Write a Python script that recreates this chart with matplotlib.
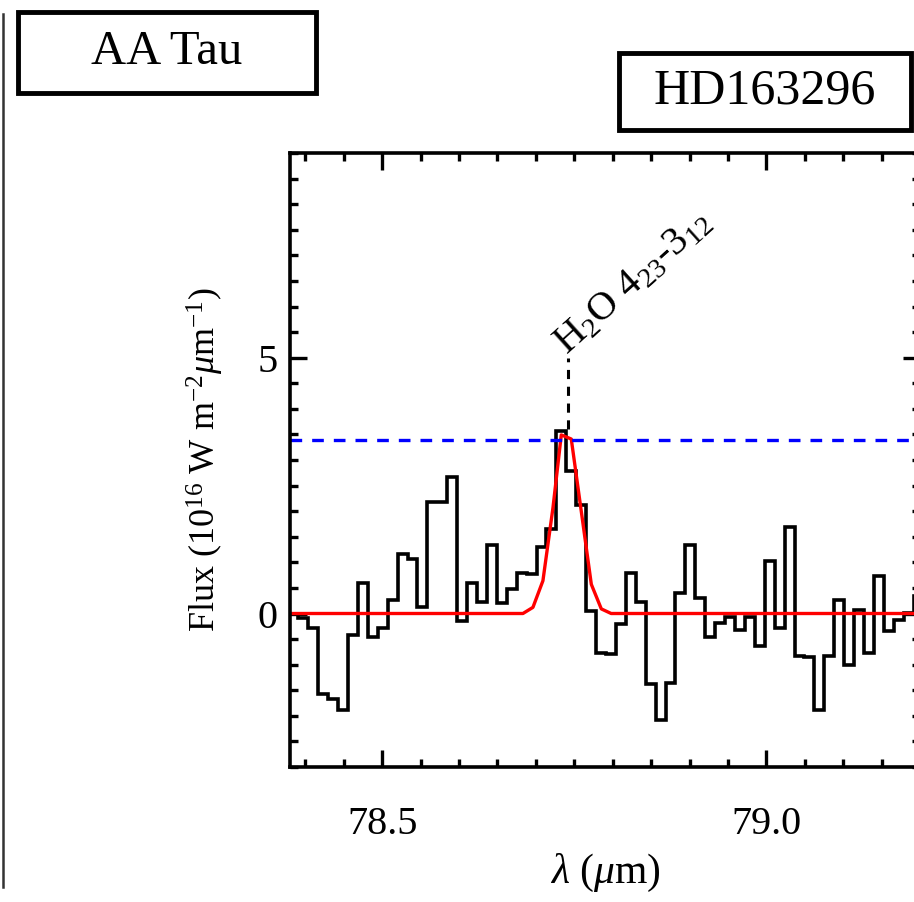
import matplotlib
matplotlib.use('Agg')
import matplotlib.pyplot as plt
from matplotlib.patches import Rectangle
from matplotlib.ticker import MultipleLocator
import numpy as np

plt.rcParams['font.family'] = ['Liberation Serif', 'DejaVu Serif']
plt.rcParams['mathtext.fontset'] = 'custom'
plt.rcParams['mathtext.rm'] = 'Liberation Serif'
plt.rcParams['mathtext.it'] = 'Liberation Serif:italic'
plt.rcParams['mathtext.bf'] = 'Liberation Serif:bold'

# spectrum bins (micron) and flux (1e-16 W m-2 um-1)
wave = [78.3845, 78.3974, 78.4103, 78.4232, 78.4362, 78.4491, 78.4620, 78.4749,
        78.4878, 78.5007, 78.5137, 78.5266, 78.5395, 78.5524, 78.5653, 78.5782,
        78.5911, 78.6041, 78.6170, 78.6299, 78.6428, 78.6557, 78.6686, 78.6816,
        78.6945, 78.7074, 78.7203, 78.7332, 78.7461, 78.7590, 78.7720, 78.7849,
        78.7978, 78.8107, 78.8236, 78.8365, 78.8494, 78.8624, 78.8753, 78.8882,
        78.9011, 78.9140, 78.9269, 78.9399, 78.9528, 78.9657, 78.9786, 78.9915,
        79.0044, 79.0173, 79.0303, 79.0432, 79.0561, 79.0690, 79.0819, 79.0948,
        79.1078, 79.1207, 79.1336, 79.1465, 79.1594, 79.1723, 79.1852, 79.1982]
flux = [0.0, -0.09, -0.29, -1.57, -1.67, -1.88, -0.42, 0.59,
        -0.45, -0.29, 0.27, 1.17, 1.06, 0.13, 2.17, 2.17,
        2.66, -0.14, 0.59, 0.23, 1.34, 0.20, 0.48, 0.80,
        0.77, 1.29, 1.66, 3.57, 2.79, 2.12, 0.05, -0.78,
        -0.79, -0.21, 0.79, 0.23, -1.37, -2.08, -1.35, 0.41,
        1.34, 0.31, -0.45, -0.19, -0.06, -0.32, -0.06, -0.64,
        1.03, -0.29, 1.70, -0.83, -0.85, -1.88, -0.83, 0.26,
        -1.01, 0.07, -0.78, 0.74, -0.35, -0.13, 0.01, 0.35]

# fitted line model (red)
fit_wave = [78.38, 78.6832, 78.6962, 78.7092, 78.7223, 78.7331, 78.7461,
            78.7591, 78.7722, 78.7852, 78.7980, 79.21]
fit_flux = [0.0, 0.0, 0.12, 0.64, 2.07, 3.49, 3.41, 2.0, 0.57, 0.09, 0.0, 0.0]

line_wave = 78.742
line_label = r'H$_2$O 4$_{23}$-3$_{12}$'
limit_3sigma = 3.40

# bin edges from the centres
w = np.array(wave)
mids = (w[1:] + w[:-1]) / 2
edges = np.concatenate([[w[0] - (mids[0] - w[0])], mids, [w[-1] + (w[-1] - mids[-1])]])

fig = plt.figure(figsize=(9.14, 9.02), dpi=100)
ax = fig.add_axes([290/914, 135/902, 630/914, 614/902])

ax.stairs(flux, edges, baseline=None, color='black', lw=2.6)
ax.plot(fit_wave, fit_flux, color='red', lw=2.4)
ax.axhline(limit_3sigma, color='blue', lw=2.4, ls=(0, (3.5, 3)))
ax.plot([line_wave, line_wave], [3.6, 5.0], color='black', lw=2.2, ls=(0, (3, 2.5)))
ax.text(line_wave - 0.002, 5.05, line_label, rotation=42, rotation_mode='anchor',
        ha='left', va='baseline', fontsize=29)

ax.set_xlim(78.38, 79.2)
ax.set_ylim(-3, 9)
ax.xaxis.set_major_locator(MultipleLocator(0.5))
ax.xaxis.set_minor_locator(MultipleLocator(0.05))
ax.yaxis.set_major_locator(MultipleLocator(5))
ax.yaxis.set_minor_locator(MultipleLocator(0.5))
ax.xaxis.set_major_formatter(matplotlib.ticker.FormatStrFormatter('%.1f'))
ax.tick_params(which='both', direction='in', top=True, right=True, width=2.4,
               labelsize=29)
ax.tick_params(which='major', length=12)
ax.tick_params(which='minor', length=6)
ax.tick_params(axis='x', pad=28)
ax.tick_params(axis='y', pad=9)
for s in ax.spines.values():
    s.set_linewidth(2.6)

ax.set_xlabel(r'$\lambda$ ($\mu$m)', fontsize=30)
ax.xaxis.set_label_coords(0.5, -0.138)
ax.set_ylabel(r'Flux (10$^{16}$ W m$^{-2}$$\mu$m$^{-1}$)', fontsize=26)
ax.yaxis.set_label_coords(-0.101, 0.5)

# source name boxes
def boxed_name(x0, y0, x1, y1, name, size):
    W, H = 914.0, 902.0
    fig.patches.append(Rectangle((x0 / W, 1 - y1 / H), (x1 - x0) / W, (y1 - y0) / H,
                                 transform=fig.transFigure, fill=False,
                                 edgecolor='black', lw=3.5))
    fig.text((x0 + x1) / 2 / W, 1 - (y0 + y1) / 2 / H, name, ha='center',
             va='center', fontsize=size)

boxed_name(18, 12, 316, 93, 'AA Tau', 35)
boxed_name(619, 53, 911, 130, 'HD163296', 36)

# edge of the neighbouring panel
fig.add_artist(plt.Line2D([3/914, 3/914], [1 - 887/902, 1 - 14/902],
                          transform=fig.transFigure, color='#333333', lw=1.8))

fig.savefig('out.png', dpi=100)
